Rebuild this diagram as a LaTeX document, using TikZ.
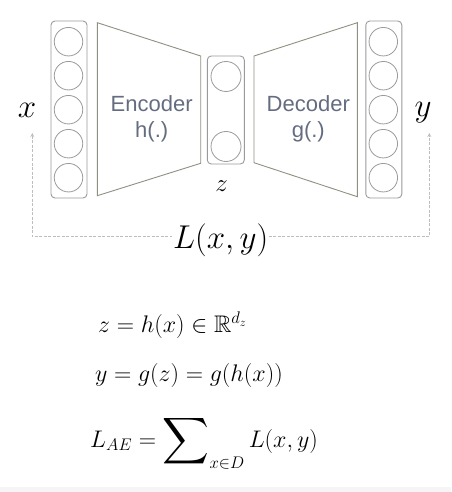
\RequirePackage{fix-cm}
\documentclass[tikz,border=0pt]{standalone}
\usepackage{amsmath}
\usepackage{amssymb}
\usepackage{fontspec}
\setmainfont{Latin Modern Roman}
\newfontfamily\labelfont{Liberation Sans}
\usetikzlibrary{arrows}
\definecolor{boxgray}{HTML}{9A9A9A}
\definecolor{trapgray}{HTML}{8C9282}
\definecolor{textslate}{HTML}{646C80}
\definecolor{lossgray}{HTML}{BDBDBD}
\tikzstyle{layerbox} = [rectangle, rounded corners=4pt, draw = boxgray, line width=0.9pt, inner sep=0pt]
\tikzstyle{neuron} = [circle, draw = boxgray, line width=0.8pt, minimum size=28.5pt, inner sep=0pt]
\tikzstyle{coder} = [draw = trapgray, line width=0.9pt, line join=miter]
\tikzstyle{codertext} = [align=center, text = textslate, font=\labelfont\fontsize{22}{26}\selectfont]
\tikzstyle{varlabel} = [inner sep=0pt, font=\fontsize{33}{33}\selectfont]
\tikzstyle{equation} = [anchor=west, inner sep=0pt, font=\fontsize{24}{24}\selectfont]
\tikzstyle{lossline} = [lossgray, dash pattern=on 3pt off 1.5pt, line width=0.8pt, <->, >=stealth]

\begin{document}
\begin{tikzpicture}[x=1pt, y=-1pt]
\useasboundingbox (0,0) rectangle (451,492);
\fill[black!4] (0,487) rectangle (451,492);

% input layer
\node(inbox) [layerbox, minimum width=36pt, minimum height=177pt] at (69,109.5) {};
\node(in1) [neuron] at (68.5,41.7) {};
\node(in2) [neuron] at (68.5,75.7) {};
\node(in3) [neuron] at (68.5,109.7) {};
\node(in4) [neuron] at (68.5,143.7) {};
\node(in5) [neuron] at (68.5,177.7) {};

% encoder
\draw [coder] (97.3,22.7) -- (200.7,56) -- (200.7,163.3) -- (97.3,195.7) -- cycle;
\node(enc) [codertext] at (151.7,119) {Encoder\\h(.)};

% code layer
\node(zbox) [layerbox, minimum width=37pt, minimum height=108pt] at (225.8,110) {};
\node(z1) [neuron, minimum size=30pt] at (226,76.5) {};
\node(z2) [neuron, minimum size=30pt] at (226,146.5) {};
\node(zlab) [font=\fontsize{25}{25}\selectfont, inner sep=0pt] at (221.7,186) {$z$};

% decoder
\draw [coder] (254,56) -- (357.3,22.7) -- (357.3,196.7) -- (254,162.7) -- cycle;
\node(dec) [codertext] at (308.3,119) {Decoder\\g(.)};

% output layer
\node(outbox) [layerbox, minimum width=36pt, minimum height=177pt] at (383.8,109.5) {};
\node(out1) [neuron] at (383.3,41.7) {};
\node(out2) [neuron] at (383.3,75.7) {};
\node(out3) [neuron] at (383.3,109.7) {};
\node(out4) [neuron] at (383.3,143.7) {};
\node(out5) [neuron] at (383.3,177.7) {};

\node(xlab) [varlabel] at (27,110) {$x$};
\node(ylab) [varlabel] at (423,113) {$y$};

% reconstruction loss
\coordinate(xtip) at (32.3,133);
\coordinate(ytip) at (429.3,133);
\coordinate(lossbase) at (220.7,236.7);
\draw [lossline] (xtip) -- (xtip |- lossbase) -- (ytip |- lossbase) -- (ytip);
\node(loss) [varlabel, fill=white, inner sep=1pt] at (220.7,240) {$L(x,y)$};

% equations
\node(eqz) [equation] at (98,325) {$z = h(x) \in \mathbb{R}^{d_z}$};
\node(eqy) [equation] at (95,375) {$y = g(z) = g(h(x))$};
\node(eqL) [equation] at (90,442) {$L_{AE} = \mathop{\vcenter{\hbox{\scalebox{1.35}{$\displaystyle\sum$}}}}\nolimits_{x\in D} L(x,y)$};

\end{tikzpicture}
\end{document}
